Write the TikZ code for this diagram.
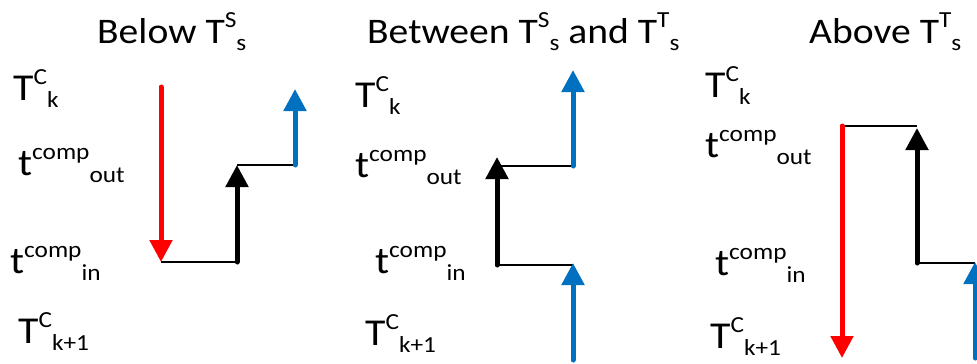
\documentclass[tikz,border=0pt]{standalone}
\usepackage{fontspec}
\setmainfont{Carlito}[FakeStretch=1.1]
\usetikzlibrary{arrows.meta}

\definecolor{arrowred}{RGB}{255,0,0}
\definecolor{arrowblue}{RGB}{0,112,192}

\newcommand{\supsub}[3]{#1\raisebox{0.42em}{\fontsize{23}{23}\selectfont #2}\raisebox{-0.2em}{\fontsize{23}{23}\selectfont #3}}

\begin{document}
\begin{tikzpicture}[
    x=1pt,
    y=-1pt,
    lbl/.style={
        anchor=base west,
        inner sep=0pt,
        font=\fontsize{38}{38}\selectfont
    },
    ttl/.style={
        lbl,
        font=\fontsize{36}{36}\selectfont
    },
    thick arrow/.style={
        line width=5pt,
        line cap=round,
        -{Triangle[width=22pt,length=22pt]}
    },
    red arrow/.style={thick arrow, arrowred},
    black arrow/.style={thick arrow, black},
    blue arrow/.style={thick arrow, arrowblue},
    link/.style={line width=1.5pt, black}
]

\useasboundingbox (0,0) rectangle (977,364);
\clip (0,0) rectangle (977,364);

\node[ttl] (below) at (97,43) {Below \supsub{T}{S}{s}};
\node[ttl] (between) at (367,43) {Between \supsub{T}{S}{s} and \supsub{T}{T}{s}};
\node[ttl] (above) at (809,43) {Above \supsub{T}{T}{s}};

\node[lbl] (tka) at (13,100) {\supsub{T}{C}{k}};
\node[lbl] (touta) at (18,175) {\supsub{t}{comp}{out}};
\node[lbl] (tina) at (10,273) {\supsub{t}{comp}{in}};
\node[lbl] (tkka) at (18,343) {\supsub{T}{C}{k+1}};

\node[lbl] (tkb) at (355,107) {\supsub{T}{C}{k}};
\node[lbl] (toutb) at (355,177) {\supsub{t}{comp}{out}};
\node[lbl] (tinb) at (375,273) {\supsub{t}{comp}{in}};
\node[lbl] (tkkb) at (365,345) {\supsub{T}{C}{k+1}};

\node[lbl] (tkc) at (705,97) {\supsub{T}{C}{k}};
\node[lbl] (toutc) at (705,157) {\supsub{t}{comp}{out}};
\node[lbl] (tinc) at (715,275) {\supsub{t}{comp}{in}};
\node[lbl] (tkkc) at (710,348) {\supsub{T}{C}{k+1}};

\coordinate (ra1) at (161,87);
\coordinate (ra2) at (161,262);
\coordinate (ba1) at (237,262);
\coordinate (ba2) at (237,165);
\coordinate (bl1) at (295,165);
\coordinate (bl2) at (295,89);

\draw[link] (ra2) -- (ba1);
\draw[link] (ba2) -- (bl1);
\draw[red arrow] (ra1) -- (ra2);
\draw[black arrow] (ba1) -- (ba2);
\draw[blue arrow] (bl1) -- (bl2);

\coordinate (bb1) at (497,265);
\coordinate (bb2) at (497,157);
\coordinate (bb3) at (497,166);
\coordinate (blb1) at (573,166);
\coordinate (blb2) at (573,70);
\coordinate (blb3) at (573,360);
\coordinate (blb4) at (573,263);
\coordinate (blb5) at (573,265);

\draw[link] (bb3) -- (blb1);
\draw[link] (bb1) -- (blb5);
\draw[black arrow] (bb1) -- (bb2);
\draw[blue arrow] (blb1) -- (blb2);
\draw[blue arrow] (blb3) -- (blb4);

\coordinate (rc1) at (842,126);
\coordinate (rc2) at (842,358);
\coordinate (bc1) at (917,263);
\coordinate (bc2) at (917,128);
\coordinate (bc3) at (917,126);
\coordinate (blc1) at (975,358);
\coordinate (blc2) at (975,262);
\coordinate (blc3) at (975,263);

\draw[link] (rc1) -- (bc3);
\draw[link] (bc1) -- (blc3);
\draw[red arrow] (rc1) -- (rc2);
\draw[black arrow] (bc1) -- (bc2);
\draw[blue arrow] (blc1) -- (blc2);

\end{tikzpicture}
\end{document}
